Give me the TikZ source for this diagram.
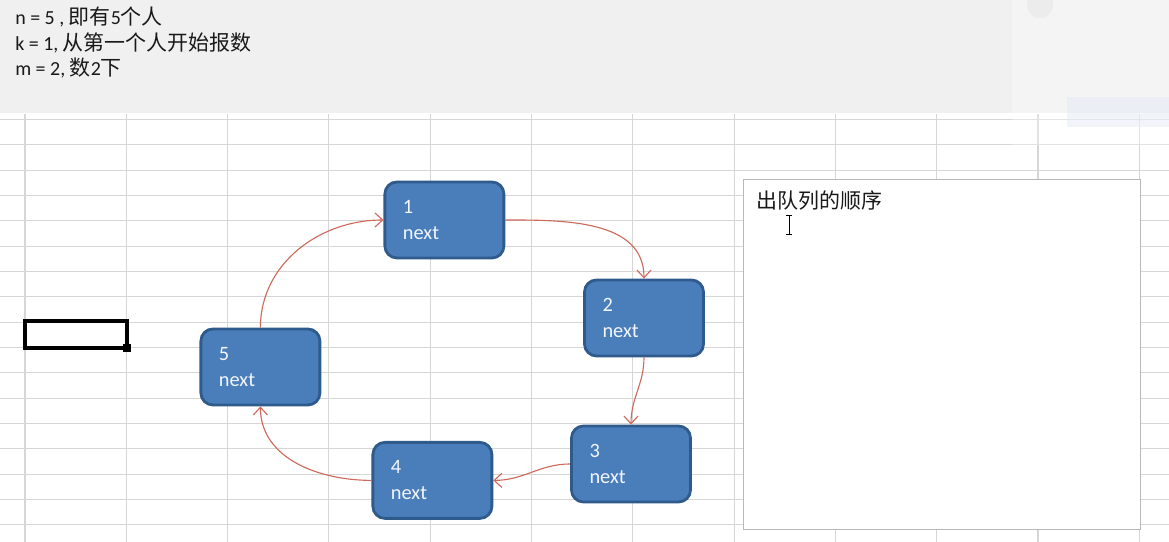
\documentclass[tikz,border=0pt]{standalone}
\usepackage{xcolor}
\usepackage{fontspec}
\setmainfont{Carlito}
\newfontfamily\cjk[Scale=1.05]{Noto Sans CJK SC}
\usepackage{tikz}
\usetikzlibrary{arrows.meta,positioning}
\definecolor{sheetgray}{HTML}{F0F0F0}
\definecolor{gridgray}{HTML}{D6D6D6}
\definecolor{nodeblue}{HTML}{4A7EBB}
\definecolor{nodeedge}{HTML}{2F5A8C}
\definecolor{nodetext}{HTML}{F2F5FB}
\definecolor{linkred}{HTML}{CD6A5C}
\definecolor{boxedge}{HTML}{B8B8B8}
\definecolor{tipblue}{HTML}{E3ECF7}

\begin{document}
\begin{tikzpicture}[
    person/.style={draw=nodeedge, fill=nodeblue, line width=2pt, rounded corners=0.3cm,
        text=nodetext, align=left, text width=2.075cm, inner xsep=0.45cm, inner ysep=0pt,
        minimum height=1.9cm, font=\fontsize{14.5}{18.4}\selectfont},
    link/.style={linkred, line width=0.8pt, -{Straight Barb[length=5.5pt,width=10pt]}},
    given/.style={anchor=base west, inner sep=0pt, text=black!90, font=\fontsize{14.2}{18.5}\selectfont}
  ]
            \useasboundingbox (0,0) rectangle (29.225,13.55);
            \draw[gridgray, line width=0.75pt, xstep=2.5325, ystep=0.6333, shift={(0.625,0.43)}] (-0.625,-0.43) grid (28.6,10.27);
            \fill[sheetgray] (0,10.725) rectangle (29.225,13.55);
            \fill[white, opacity=0.3] (25.3,9.925) rectangle (29.225,13.55);
            \fill[black!10, opacity=0.5] (26,13.425) circle (0.33);
            \fill[tipblue, opacity=0.5] (26.675,10.375) rectangle (29.225,11.125);
            \node[given] (nline) at (0.375,12.925) {n = 5 , {\cjk 即有}5{\cjk 个人}};
            \node[given] (kline) at (0.375,12.275) {k = 1, {\cjk 从第一个人开始报数}};
            \node[given] (mline) at (0.375,11.65) {m = 2, {\cjk 数}2{\cjk 下}};
            \draw[black, line width=3.2pt] (0.625,4.85) rectangle (3.175,5.525);
            \fill[black] (3.075,4.75) rectangle (3.275,4.95);
            \node[draw=boxedge, fill=white, line width=0.9pt, minimum width=9.925cm, minimum height=8.75cm,
                anchor=north west, inner sep=0pt] (queue) at (18.575,9.075) {};
            \node[below right=0.28cm and 0.33cm of queue.north west, inner sep=0pt, text=black!90,
                font=\fontsize{14.2}{18.5}\selectfont] (order) {\cjk 出队列的顺序};
            \draw[black, line width=0.7pt] (19.725,8.15) -- (19.725,7.675);
            \draw[black, line width=0.7pt] (19.65,8.15) -- (19.8,8.15);
            \draw[black, line width=0.7pt] (19.65,7.675) -- (19.8,7.675);
             \foreach \i/\x/\y in {1/11.11/8.05, 2/16.1/5.6, 3/15.775/1.95, 4/10.81/1.54, 5/6.51/4.375}
            \node[person] (n\i) at (\x,\y) {\i\\next};
             \foreach \a/\b/\o/\n in {1/2/0/90, 2/3/-90/90, 3/4/180/0, 4/5/180/-90, 5/1/90/180}
            \draw[link] (n\a) to[out=\o, in=\n] (n\b);
        \end{tikzpicture}
\end{document}
